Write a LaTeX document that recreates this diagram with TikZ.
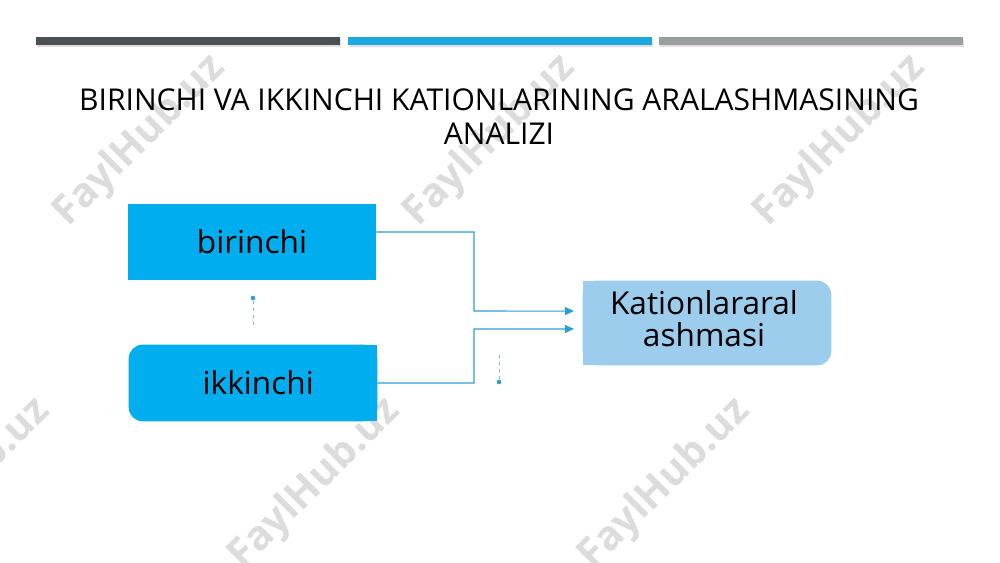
\documentclass[tikz,border=0pt]{standalone}
\usepackage{fontspec}
\setmainfont{Open Sans}
\usetikzlibrary{arrows.meta,backgrounds,positioning}
\definecolor{bardark}{HTML}{4A5152}
\definecolor{barblue}{HTML}{1DA9E0}
\definecolor{bargray}{HTML}{9B9E9E}
\definecolor{boxblue}{HTML}{00AEEF}
\definecolor{boxlight}{HTML}{9DCDEC}
\definecolor{linkblue}{HTML}{2A9FD6}
\definecolor{markgray}{HTML}{DCDCDC}

\begin{document}
\begin{tikzpicture}[x=0.02cm,y=-0.02cm,
    box/.style={minimum width=4.96cm,minimum height=1.52cm,inner sep=0pt,
        font=\fontsize{18}{18.2}\selectfont,align=center},
    link/.style={draw=linkblue,line width=0.6pt,-{Triangle[length=5pt,width=4.5pt]}},
    hint/.style={draw=linkblue!70,line width=0.45pt,dash pattern=on 2pt off 2pt},
    dot/.style={circle,fill=linkblue,inner sep=0pt,minimum size=2.6pt},
    wmark/.style={text=markgray,rotate=45,font=\bfseries\fontsize{23}{23}\selectfont}]
                                \useasboundingbox (0,0) rectangle (1000,562);
                                % top bars
                                \fill[black!12] (37,39) rectangle (341,47);
                                \fill[black!12] (349,39) rectangle (653,47);
                                \fill[black!12] (660,39) rectangle (964,47);
                                \fill[bardark] (36,37) rectangle (340,45);
                                \fill[barblue] (348,37) rectangle (652,45);
                                \fill[bargray] (659,37) rectangle (963,45);
                                \node[align=center,font=\fontsize{17.1}{19.3}\selectfont] (title) at (499,117)
                                    {BIRINCHI VA IKKINCHI KATIONLARINING ARALASHMASINING\\ANALIZI};
                                \node[box,fill=boxblue] (birinchi) at (252,242) {birinchi};
                                \node[box] (ikkinchi) at (253,383) {\hspace{6pt}ikkinchi};
                                \node[box,minimum height=1.68cm] (target) at (707,323) {};
                                \node[box,font=\fontsize{18}{18.2}\selectfont] (label) at (704,319) {Kationlararal\\ashmasi};
                                \node[dot] (d1) at (253,298) {};
                                \node[dot] (d2) at (499,382) {};
                                \draw[link] ([yshift=5.7pt]birinchi.east) -| (474,311) -- ([xshift=-5pt,yshift=6.8pt]target.west);
                                \draw[link] (ikkinchi.east) -| (474,329) -- ([xshift=-5pt,yshift=-3.4pt]target.west);
                                \draw[hint] (d1) -- (253,326);
                                \draw[hint] (d2) -- (499,354);
                                \begin{scope}[on background layer]
                                    \begin{scope}
                                        \clip (0,0) rectangle (1000,562);
                                        \foreach \x/\y in {140/141, 490/141, 840/141, -35/484, 315/484, 665/484}
                                            \node[wmark] at (\x,\y) {FaylHub.uz};
                                    \end{scope}
                                    \fill[boxblue,rounded corners=8pt] (ikkinchi.south west) rectangle (ikkinchi.north east);
                                    \fill[boxblue] (ikkinchi.south) rectangle (ikkinchi.north east);
                                    \fill[boxlight,rounded corners=8pt] (target.south west) rectangle (target.north east);
                                    \fill[boxlight] (target.south west) rectangle (target.north);
                                \end{scope}
                            \end{tikzpicture}
\end{document}
